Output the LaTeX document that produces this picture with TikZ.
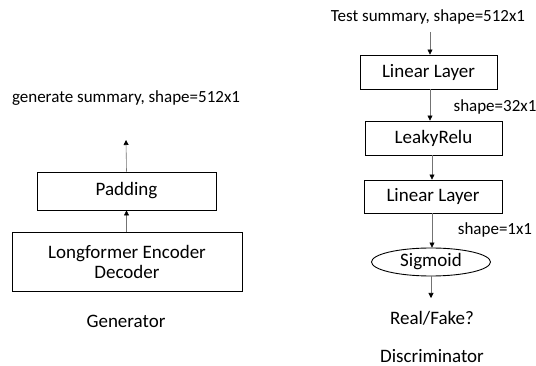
\documentclass[tikz,border=0pt]{standalone}
\usepackage{fontspec}
\setmainfont{Carlito}
\usetikzlibrary{arrows.meta,shapes.geometric}
\begin{document}
\begin{tikzpicture}[x=1pt,y=-1pt,
  every node/.style={font=\fontsize{17}{20}\selectfont, inner sep=0pt},
  boxfont/.style={font=\fontsize{19}{22}\selectfont},
  blockbox/.style={draw=black, line width=0.9pt, minimum height=#1, boxfont},
  flow/.style={draw=black!55, line width=0.6pt, -{Triangle[width=5pt,length=5pt,color=black,fill=black]}},
  lbl/.style={anchor=center},
  basetxt/.style={anchor=base}]
\useasboundingbox (0,0) rectangle (536,366);

% Generator
\node[blockbox=59pt, minimum width=230pt, align=center] (led) at (127,261.5) {Longformer Encoder\\[-2pt]Decoder};
\node[blockbox=38pt, minimum width=179pt] (pad) at (126.5,191) {Padding};
\node[lbl] (gen) at (126,98) {generate summary, shape=512x1};
\coordinate (genend) at (126,140);
\node[basetxt, boxfont] (gtitle) at (126,328) {Generator};
\draw[flow] (led.north -| pad.south) -- (pad.south);
\draw[flow] (pad.north) -- (genend);

% Discriminator
\node[lbl] (test) at (428,17) {Test summary, shape=512x1};
\coordinate (teststart) at (430,32);
\node[blockbox=34pt, minimum width=137pt] (lin1) at (428.5,72) {Linear Layer};
\node[blockbox=34pt, minimum width=137pt] (relu) at (433.5,138) {LeakyRelu};
\node[blockbox=33pt, minimum width=138pt] (lin2) at (433,196.5) {Linear Layer};
\node[draw=black, line width=0.9pt, ellipse, minimum width=119pt, minimum height=28pt, boxfont] (sig) at (431,262) {Sigmoid};
\node[basetxt, boxfont] (out) at (432,325) {Real/Fake?};
\coordinate (outend) at (431,298);
\node[basetxt, boxfont] (dtitle) at (432,362.5) {Discriminator};
\node[lbl] (s32) at (495,107) {shape=32x1};
\node[lbl] (s11) at (495,230) {shape=1x1};

\draw[flow] (teststart) -- (teststart |- lin1.north);
\draw[flow] (430,0 |- lin1.south) -- (430,0 |- relu.north);
\draw[flow] (432,0 |- relu.south) -- (432,0 |- lin2.north);
\draw[flow] (432,0 |- lin2.south) -- (432,0 |- sig.north);
\draw[flow] (sig.south) -- (outend);
\end{tikzpicture}
\end{document}
